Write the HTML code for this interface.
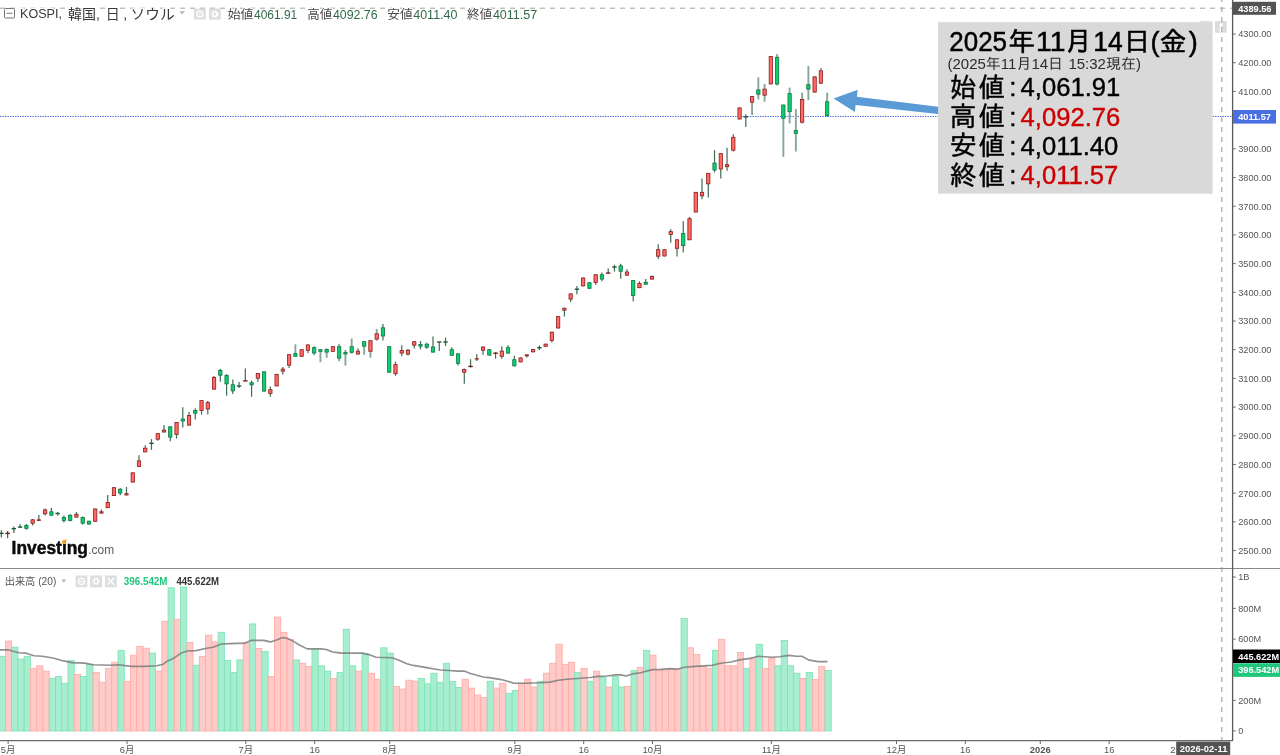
<!DOCTYPE html>
<html lang="ja"><head><meta charset="utf-8"><title>KOSPI</title>
<style>
html,body{margin:0;padding:0;background:#fff;}
body{width:1280px;height:755px;overflow:hidden;}
svg{display:block;font-family:'Liberation Sans','Noto Sans CJK JP',sans-serif;}
.ax{font-size:9.2px;fill:#555;}
.tm{font-size:9.4px;fill:#555;text-anchor:middle;}
.wk{stroke:#3d6c53;stroke-width:1.2;}
.wl{stroke:#86a698;stroke-width:1.9;}
.rb{fill:#ff6a62;stroke:#8c1c1c;stroke-width:.8;}
.gb{fill:#0ccf72;stroke:#0f7440;stroke-width:.8;}
.rd{stroke:#7a1818;stroke-width:1.4;}
.gd{stroke:#1f5a3a;stroke-width:1.4;}
.rv{fill:#ffcbc8;stroke:#ffaaa4;stroke-width:.8;}
.gv{fill:#a7edcf;stroke:#7de2b4;stroke-width:.8;}
</style></head><body>
<svg width="1280" height="755" viewBox="0 0 1280 755">
<rect width="1280" height="755" fill="#fff"/>
<g>
<rect class="gv" x="-0.85" y="656.3" width="6.26" height="74.7"/>
<rect class="rv" x="5.41" y="641.0" width="6.26" height="90.0"/>
<rect class="gv" x="11.66" y="647.2" width="6.26" height="83.8"/>
<rect class="gv" x="17.92" y="659.0" width="6.26" height="72.0"/>
<rect class="gv" x="24.17" y="656.3" width="6.26" height="74.7"/>
<rect class="rv" x="30.43" y="668.3" width="6.26" height="62.7"/>
<rect class="rv" x="36.69" y="665.8" width="6.26" height="65.2"/>
<rect class="rv" x="42.94" y="671.1" width="6.26" height="59.9"/>
<rect class="gv" x="49.20" y="678.5" width="6.26" height="52.5"/>
<rect class="gv" x="55.45" y="676.4" width="6.26" height="54.6"/>
<rect class="gv" x="61.71" y="683.2" width="6.26" height="47.8"/>
<rect class="gv" x="67.97" y="660.5" width="6.26" height="70.5"/>
<rect class="rv" x="74.22" y="674.3" width="6.26" height="56.7"/>
<rect class="gv" x="80.48" y="676.4" width="6.26" height="54.6"/>
<rect class="gv" x="86.73" y="664.3" width="6.26" height="66.7"/>
<rect class="rv" x="92.99" y="672.6" width="6.26" height="58.4"/>
<rect class="rv" x="99.25" y="682.3" width="6.26" height="48.7"/>
<rect class="rv" x="105.50" y="668.3" width="6.26" height="62.7"/>
<rect class="rv" x="111.76" y="662.2" width="6.26" height="68.8"/>
<rect class="gv" x="118.01" y="650.3" width="6.26" height="80.7"/>
<rect class="rv" x="124.27" y="681.3" width="6.26" height="49.7"/>
<rect class="rv" x="130.53" y="655.2" width="6.26" height="75.8"/>
<rect class="rv" x="136.78" y="646.3" width="6.26" height="84.7"/>
<rect class="rv" x="143.04" y="648.2" width="6.26" height="82.8"/>
<rect class="gv" x="149.29" y="653.1" width="6.26" height="77.9"/>
<rect class="rv" x="155.55" y="671.1" width="6.26" height="59.9"/>
<rect class="rv" x="161.81" y="621.3" width="6.26" height="109.7"/>
<rect class="gv" x="168.06" y="587.8" width="6.26" height="143.2"/>
<rect class="rv" x="174.32" y="619.2" width="6.26" height="111.8"/>
<rect class="gv" x="180.57" y="587.0" width="6.26" height="144.0"/>
<rect class="rv" x="186.83" y="642.5" width="6.26" height="88.5"/>
<rect class="gv" x="193.09" y="665.2" width="6.26" height="65.8"/>
<rect class="rv" x="199.34" y="656.3" width="6.26" height="74.7"/>
<rect class="rv" x="205.60" y="635.1" width="6.26" height="95.9"/>
<rect class="rv" x="211.85" y="641.9" width="6.26" height="89.1"/>
<rect class="gv" x="218.11" y="632.3" width="6.26" height="98.7"/>
<rect class="gv" x="224.37" y="660.5" width="6.26" height="70.5"/>
<rect class="gv" x="230.62" y="672.6" width="6.26" height="58.4"/>
<rect class="gv" x="236.88" y="659.9" width="6.26" height="71.1"/>
<rect class="rv" x="243.13" y="642.9" width="6.26" height="88.1"/>
<rect class="gv" x="249.39" y="623.9" width="6.26" height="107.1"/>
<rect class="rv" x="255.65" y="648.4" width="6.26" height="82.6"/>
<rect class="gv" x="261.90" y="651.4" width="6.26" height="79.6"/>
<rect class="rv" x="268.16" y="676.4" width="6.26" height="54.6"/>
<rect class="rv" x="274.41" y="617.1" width="6.26" height="113.9"/>
<rect class="rv" x="280.67" y="632.3" width="6.26" height="98.7"/>
<rect class="rv" x="286.93" y="639.3" width="6.26" height="91.7"/>
<rect class="gv" x="293.18" y="659.9" width="6.26" height="71.1"/>
<rect class="rv" x="299.44" y="663.3" width="6.26" height="67.7"/>
<rect class="rv" x="305.69" y="666.4" width="6.26" height="64.6"/>
<rect class="gv" x="311.95" y="649.3" width="6.26" height="81.7"/>
<rect class="gv" x="318.21" y="665.8" width="6.26" height="65.2"/>
<rect class="gv" x="324.46" y="671.1" width="6.26" height="59.9"/>
<rect class="rv" x="330.72" y="678.5" width="6.26" height="52.5"/>
<rect class="gv" x="336.97" y="672.6" width="6.26" height="58.4"/>
<rect class="gv" x="343.23" y="629.2" width="6.26" height="101.8"/>
<rect class="gv" x="349.49" y="665.8" width="6.26" height="65.2"/>
<rect class="rv" x="355.74" y="671.1" width="6.26" height="59.9"/>
<rect class="gv" x="362.00" y="653.5" width="6.26" height="77.5"/>
<rect class="rv" x="368.25" y="673.2" width="6.26" height="57.8"/>
<rect class="rv" x="374.51" y="679.2" width="6.26" height="51.8"/>
<rect class="gv" x="380.77" y="647.8" width="6.26" height="83.2"/>
<rect class="gv" x="387.02" y="653.1" width="6.26" height="77.9"/>
<rect class="rv" x="393.28" y="686.4" width="6.26" height="44.6"/>
<rect class="rv" x="399.53" y="689.1" width="6.26" height="41.9"/>
<rect class="rv" x="405.79" y="680.2" width="6.26" height="50.8"/>
<rect class="rv" x="412.05" y="681.1" width="6.26" height="49.9"/>
<rect class="gv" x="418.30" y="678.5" width="6.26" height="52.5"/>
<rect class="gv" x="424.56" y="683.8" width="6.26" height="47.2"/>
<rect class="gv" x="430.81" y="673.2" width="6.26" height="57.8"/>
<rect class="gv" x="437.07" y="682.3" width="6.26" height="48.7"/>
<rect class="gv" x="443.33" y="663.3" width="6.26" height="67.7"/>
<rect class="gv" x="449.58" y="681.3" width="6.26" height="49.7"/>
<rect class="gv" x="455.84" y="687.4" width="6.26" height="43.6"/>
<rect class="rv" x="462.09" y="679.2" width="6.26" height="51.8"/>
<rect class="rv" x="468.35" y="688.1" width="6.26" height="42.9"/>
<rect class="rv" x="474.61" y="695.0" width="6.26" height="36.0"/>
<rect class="rv" x="480.86" y="697.6" width="6.26" height="33.4"/>
<rect class="gv" x="487.12" y="681.3" width="6.26" height="49.7"/>
<rect class="rv" x="493.37" y="688.1" width="6.26" height="42.9"/>
<rect class="rv" x="499.63" y="683.2" width="6.26" height="47.8"/>
<rect class="gv" x="505.89" y="693.3" width="6.26" height="37.7"/>
<rect class="gv" x="512.14" y="690.6" width="6.26" height="40.4"/>
<rect class="rv" x="518.40" y="683.2" width="6.26" height="47.8"/>
<rect class="rv" x="524.65" y="679.2" width="6.26" height="51.8"/>
<rect class="rv" x="530.91" y="687.0" width="6.26" height="44.0"/>
<rect class="gv" x="537.17" y="681.3" width="6.26" height="49.7"/>
<rect class="rv" x="543.42" y="673.2" width="6.26" height="57.8"/>
<rect class="rv" x="549.68" y="663.3" width="6.26" height="67.7"/>
<rect class="rv" x="555.93" y="644.2" width="6.26" height="86.8"/>
<rect class="rv" x="562.19" y="664.3" width="6.26" height="66.7"/>
<rect class="rv" x="568.45" y="662.2" width="6.26" height="68.8"/>
<rect class="gv" x="574.70" y="672.6" width="6.26" height="58.4"/>
<rect class="rv" x="580.96" y="668.3" width="6.26" height="62.7"/>
<rect class="gv" x="587.21" y="681.3" width="6.26" height="49.7"/>
<rect class="rv" x="593.47" y="671.1" width="6.26" height="59.9"/>
<rect class="gv" x="599.73" y="677.5" width="6.26" height="53.5"/>
<rect class="rv" x="605.98" y="687.0" width="6.26" height="44.0"/>
<rect class="gv" x="612.24" y="676.4" width="6.26" height="54.6"/>
<rect class="gv" x="618.49" y="687.0" width="6.26" height="44.0"/>
<rect class="rv" x="624.75" y="686.4" width="6.26" height="44.6"/>
<rect class="gv" x="631.01" y="670.5" width="6.26" height="60.5"/>
<rect class="rv" x="637.26" y="667.3" width="6.26" height="63.7"/>
<rect class="gv" x="643.52" y="650.3" width="6.26" height="80.7"/>
<rect class="rv" x="649.77" y="655.2" width="6.26" height="75.8"/>
<rect class="rv" x="656.03" y="670.0" width="6.26" height="61.0"/>
<rect class="rv" x="662.29" y="670.0" width="6.26" height="61.0"/>
<rect class="rv" x="668.54" y="669.0" width="6.26" height="62.0"/>
<rect class="rv" x="674.80" y="669.0" width="6.26" height="62.0"/>
<rect class="gv" x="681.05" y="618.6" width="6.26" height="112.4"/>
<rect class="rv" x="687.31" y="647.8" width="6.26" height="83.2"/>
<rect class="rv" x="693.57" y="654.6" width="6.26" height="76.4"/>
<rect class="rv" x="699.82" y="666.4" width="6.26" height="64.6"/>
<rect class="rv" x="706.08" y="668.3" width="6.26" height="62.7"/>
<rect class="gv" x="712.33" y="650.3" width="6.26" height="80.7"/>
<rect class="rv" x="718.59" y="639.3" width="6.26" height="91.7"/>
<rect class="rv" x="724.85" y="665.8" width="6.26" height="65.2"/>
<rect class="rv" x="731.10" y="665.8" width="6.26" height="65.2"/>
<rect class="rv" x="737.36" y="652.5" width="6.26" height="78.5"/>
<rect class="gv" x="743.61" y="668.3" width="6.26" height="62.7"/>
<rect class="rv" x="749.87" y="659.0" width="6.26" height="72.0"/>
<rect class="gv" x="756.13" y="644.2" width="6.26" height="86.8"/>
<rect class="rv" x="762.38" y="668.3" width="6.26" height="62.7"/>
<rect class="rv" x="768.64" y="658.0" width="6.26" height="73.0"/>
<rect class="gv" x="774.89" y="665.8" width="6.26" height="65.2"/>
<rect class="gv" x="781.15" y="640.4" width="6.26" height="90.6"/>
<rect class="gv" x="787.41" y="665.8" width="6.26" height="65.2"/>
<rect class="gv" x="793.66" y="673.2" width="6.26" height="57.8"/>
<rect class="rv" x="799.92" y="678.5" width="6.26" height="52.5"/>
<rect class="gv" x="806.17" y="672.6" width="6.26" height="58.4"/>
<rect class="rv" x="812.43" y="679.6" width="6.26" height="51.4"/>
<rect class="rv" x="818.69" y="666.4" width="6.26" height="64.6"/>
<rect class="gv" x="824.94" y="670.5" width="6.26" height="60.5"/>
</g>
<polyline fill="none" stroke="#7c7c7c" stroke-opacity=".85" stroke-width="1.6" stroke-linejoin="round" points="0.0,649.9 8.5,649.9 19.0,652.7 25.4,653.1 33.9,655.8 42.4,656.3 53.0,658.0 63.6,660.9 72.0,662.6 84.7,663.1 93.2,664.7 110.2,665.2 118.6,664.7 131.4,666.4 144.0,666.4 156.8,665.8 163.1,664.3 166.4,661.6 172.7,658.8 181.2,653.1 187.5,651.0 196.0,650.6 206.6,648.2 213.0,647.2 221.4,644.0 230.0,643.6 244.7,643.1 251.1,640.4 263.8,640.4 270.2,641.9 276.5,640.0 282.9,637.6 287.1,638.3 293.5,641.4 299.8,645.3 307.2,648.9 321.0,648.9 326.4,649.5 332.7,652.0 341.2,653.1 362.4,653.1 368.7,654.6 376.1,657.3 392.0,657.8 398.4,660.1 406.9,663.7 413.2,665.4 419.6,666.4 428.0,667.9 434.4,669.0 440.8,670.0 449.2,670.5 457.7,671.1 464.1,671.1 470.4,673.6 476.8,675.3 483.1,677.0 490.6,677.9 501.2,679.6 507.5,681.3 513.9,683.2 526.6,683.2 539.3,682.8 549.9,682.1 558.4,680.2 566.9,679.2 577.5,678.5 590.2,677.5 598.6,676.4 607.1,676.0 615.6,674.9 620.9,674.9 626.2,676.0 632.5,673.9 641.0,672.8 646.4,671.1 652.7,669.6 661.2,669.4 670.7,668.6 677.1,669.2 684.5,667.3 695.1,666.4 712.0,665.4 720.5,663.3 731.1,662.0 739.6,659.9 750.2,658.4 758.6,656.3 771.4,657.3 779.8,656.7 788.3,655.4 796.8,656.3 802.1,656.3 808.4,659.9 818.0,661.6 827.5,661.6"/>
<line x1="0" y1="116.5" x2="1232" y2="116.5" stroke="#4468e0" stroke-width="1.1" stroke-dasharray="1.35 1.15"/>
<g>
<line class="wk" x1="1.35" y1="530.2" x2="1.35" y2="537.4"/><line class="gd" x1="-0.85" y1="533.4" x2="3.55" y2="533.4"/>
<line class="wk" x1="7.61" y1="531.1" x2="7.61" y2="538.3"/><line class="rd" x1="5.41" y1="533.4" x2="9.81" y2="533.4"/>
<line class="wk" x1="13.86" y1="526.4" x2="13.86" y2="533.0"/><line class="gd" x1="11.66" y1="528.7" x2="16.06" y2="528.7"/>
<line class="wk" x1="20.12" y1="524.0" x2="20.12" y2="527.8"/><line class="gd" x1="17.92" y1="527.1" x2="22.32" y2="527.1"/>
<line class="wk" x1="26.37" y1="524.0" x2="26.37" y2="529.7"/><rect class="gb" x="24.72" y="525.4" width="3.3" height="2.9"/>
<line class="wk" x1="32.63" y1="519.0" x2="32.63" y2="525.5"/><rect class="rb" x="30.98" y="519.8" width="3.3" height="3.4"/>
<line class="wk" x1="38.89" y1="515.1" x2="38.89" y2="521.0"/><rect class="rb" x="37.24" y="519.8" width="3.3" height="0.8"/>
<line class="wk" x1="45.14" y1="508.6" x2="45.14" y2="515.6"/><rect class="rb" x="43.49" y="509.9" width="3.3" height="3.9"/>
<line class="wk" x1="51.40" y1="508.1" x2="51.40" y2="515.6"/><rect class="gb" x="49.75" y="511.8" width="3.3" height="3.4"/>
<line class="wk" x1="57.65" y1="511.9" x2="57.65" y2="515.6"/><line class="gd" x1="55.45" y1="513.5" x2="59.85" y2="513.5"/>
<line class="wk" x1="63.91" y1="515.6" x2="63.91" y2="522.6"/><rect class="gb" x="62.26" y="517.6" width="3.3" height="3.0"/>
<line class="wk" x1="70.17" y1="514.2" x2="70.17" y2="521.3"/><rect class="gb" x="68.52" y="515.3" width="3.3" height="5.3"/>
<line class="wk" x1="76.42" y1="512.1" x2="76.42" y2="517.7"/><rect class="rb" x="74.77" y="514.3" width="3.3" height="2.8"/>
<line class="wk" x1="82.68" y1="516.6" x2="82.68" y2="524.5"/><rect class="gb" x="81.03" y="517.6" width="3.3" height="5.6"/>
<line class="wk" x1="88.93" y1="520.8" x2="88.93" y2="524.5"/><rect class="gb" x="87.28" y="521.2" width="3.3" height="2.9"/>
<line class="wk" x1="95.19" y1="508.6" x2="95.19" y2="521.7"/><rect class="rb" x="93.54" y="509.0" width="3.3" height="12.3"/>
<line class="wk" x1="101.45" y1="509.5" x2="101.45" y2="513.5"/><rect class="rb" x="99.80" y="511.8" width="3.3" height="1.3"/>
<line class="wk" x1="107.70" y1="495.0" x2="107.70" y2="508.1"/><rect class="rb" x="106.05" y="502.4" width="3.3" height="5.3"/>
<line class="wk" x1="113.96" y1="487.3" x2="113.96" y2="496.0"/><rect class="rb" x="112.31" y="487.7" width="3.3" height="7.9"/>
<line class="wk" x1="120.21" y1="488.1" x2="120.21" y2="495.2"/><rect class="gb" x="118.56" y="489.3" width="3.3" height="3.7"/>
<line class="wk" x1="126.47" y1="487.0" x2="126.47" y2="495.4"/><rect class="rb" x="124.82" y="493.7" width="3.3" height="1.3"/>
<line class="wk" x1="132.73" y1="472.4" x2="132.73" y2="482.5"/><rect class="rb" x="131.08" y="472.8" width="3.3" height="9.3"/>
<line class="wk" x1="138.98" y1="455.3" x2="138.98" y2="466.8"/><rect class="rb" x="137.33" y="460.9" width="3.3" height="5.5"/>
<line class="wk" x1="145.24" y1="445.2" x2="145.24" y2="452.3"/><rect class="rb" x="143.59" y="448.2" width="3.3" height="3.7"/>
<line class="wk" x1="151.49" y1="439.1" x2="151.49" y2="449.9"/><line class="gd" x1="149.29" y1="443.3" x2="153.69" y2="443.3"/>
<line class="wk" x1="157.75" y1="433.2" x2="157.75" y2="440.7"/><rect class="rb" x="156.10" y="433.6" width="3.3" height="5.6"/>
<line class="wk" x1="164.01" y1="425.1" x2="164.01" y2="432.4"/><rect class="rb" x="162.36" y="430.1" width="3.3" height="1.9"/>
<line class="wk" x1="170.26" y1="426.4" x2="170.26" y2="441.2"/><rect class="gb" x="168.61" y="426.8" width="3.3" height="10.3"/>
<line class="wk" x1="176.52" y1="422.1" x2="176.52" y2="438.5"/><rect class="rb" x="174.87" y="422.5" width="3.3" height="11.9"/>
<line class="wk" x1="182.77" y1="407.2" x2="182.77" y2="427.5"/><rect class="gb" x="181.12" y="419.0" width="3.3" height="2.0"/>
<line class="wk" x1="189.03" y1="412.1" x2="189.03" y2="425.5"/><rect class="rb" x="187.38" y="415.5" width="3.3" height="9.6"/>
<line class="wk" x1="195.29" y1="408.2" x2="195.29" y2="419.6"/><rect class="gb" x="193.64" y="410.5" width="3.3" height="2.7"/>
<line class="wk" x1="201.54" y1="400.2" x2="201.54" y2="414.6"/><rect class="rb" x="199.89" y="400.6" width="3.3" height="9.8"/>
<line class="wk" x1="207.80" y1="400.9" x2="207.80" y2="414.6"/><rect class="rb" x="206.15" y="402.6" width="3.3" height="6.4"/>
<line class="wk" x1="214.05" y1="376.1" x2="214.05" y2="389.5"/><rect class="rb" x="212.40" y="377.5" width="3.3" height="11.6"/>
<line class="wk" x1="220.31" y1="369.1" x2="220.31" y2="381.8"/><rect class="gb" x="218.66" y="370.3" width="3.3" height="4.9"/>
<line class="wk" x1="226.57" y1="374.1" x2="226.57" y2="395.7"/><rect class="gb" x="224.92" y="375.5" width="3.3" height="8.4"/>
<line class="wk" x1="232.82" y1="379.6" x2="232.82" y2="394.0"/><rect class="gb" x="231.17" y="384.7" width="3.3" height="6.2"/>
<line class="wk" x1="239.08" y1="382.0" x2="239.08" y2="388.0"/><line class="gd" x1="236.88" y1="386.0" x2="241.28" y2="386.0"/>
<line class="wk" x1="245.33" y1="368.4" x2="245.33" y2="380.9"/><line class="rd" x1="243.13" y1="380.9" x2="247.53" y2="380.9"/>
<line class="wk" x1="251.59" y1="380.6" x2="251.59" y2="396.7"/><rect class="gb" x="249.94" y="382.7" width="3.3" height="2.2"/>
<line class="wk" x1="257.85" y1="373.1" x2="257.85" y2="381.8"/><rect class="rb" x="256.20" y="373.5" width="3.3" height="4.7"/>
<line class="wk" x1="264.10" y1="371.4" x2="264.10" y2="391.5"/><rect class="gb" x="262.45" y="371.8" width="3.3" height="19.3"/>
<line class="wk" x1="270.36" y1="386.5" x2="270.36" y2="396.7"/><rect class="rb" x="268.71" y="389.7" width="3.3" height="3.7"/>
<line class="wk" x1="276.61" y1="373.9" x2="276.61" y2="386.3"/><rect class="rb" x="274.96" y="374.3" width="3.3" height="11.6"/>
<line class="wk" x1="282.87" y1="367.0" x2="282.87" y2="374.4"/><rect class="rb" x="281.22" y="369.1" width="3.3" height="2.1"/>
<line class="wl" x1="289.13" y1="354.2" x2="289.13" y2="368.1"/><rect class="rb" x="287.48" y="354.6" width="3.3" height="10.6"/>
<line class="wl" x1="295.38" y1="344.3" x2="295.38" y2="356.7"/><rect class="gb" x="293.73" y="353.6" width="3.3" height="2.7"/>
<line class="wl" x1="301.64" y1="349.3" x2="301.64" y2="356.7"/><rect class="rb" x="299.99" y="349.7" width="3.3" height="6.6"/>
<line class="wl" x1="307.89" y1="344.5" x2="307.89" y2="353.2"/><rect class="rb" x="306.24" y="344.9" width="3.3" height="5.4"/>
<line class="wl" x1="314.15" y1="346.3" x2="314.15" y2="355.2"/><rect class="gb" x="312.50" y="347.7" width="3.3" height="5.3"/>
<line class="wl" x1="320.41" y1="349.3" x2="320.41" y2="362.2"/><rect class="gb" x="318.76" y="349.7" width="3.3" height="1.6"/>
<line class="wl" x1="326.66" y1="348.5" x2="326.66" y2="357.7"/><rect class="gb" x="325.01" y="349.4" width="3.3" height="2.7"/>
<line class="wl" x1="332.92" y1="346.3" x2="332.92" y2="351.7"/><rect class="rb" x="331.27" y="346.7" width="3.3" height="4.6"/>
<line class="wl" x1="339.17" y1="343.8" x2="339.17" y2="361.2"/><rect class="gb" x="337.52" y="346.7" width="3.3" height="11.4"/>
<line class="wl" x1="345.43" y1="349.8" x2="345.43" y2="365.6"/><rect class="gb" x="343.78" y="352.6" width="3.3" height="1.4"/>
<line class="wl" x1="351.69" y1="338.5" x2="351.69" y2="353.5"/><rect class="gb" x="350.04" y="346.7" width="3.3" height="5.6"/>
<line class="wl" x1="357.94" y1="348.3" x2="357.94" y2="354.5"/><rect class="rb" x="356.29" y="351.1" width="3.3" height="3.0"/>
<line class="wl" x1="364.20" y1="341.3" x2="364.20" y2="354.7"/><rect class="gb" x="362.55" y="341.7" width="3.3" height="4.5"/>
<line class="wl" x1="370.45" y1="340.3" x2="370.45" y2="357.7"/><rect class="rb" x="368.80" y="340.7" width="3.3" height="10.6"/>
<line class="wl" x1="376.71" y1="329.1" x2="376.71" y2="340.6"/><rect class="rb" x="375.06" y="333.8" width="3.3" height="5.3"/>
<line class="wk" x1="382.97" y1="324.1" x2="382.97" y2="340.6"/><rect class="gb" x="381.32" y="327.8" width="3.3" height="8.2"/>
<line class="wk" x1="389.22" y1="346.3" x2="389.22" y2="372.6"/><rect class="gb" x="387.57" y="346.7" width="3.3" height="25.5"/>
<line class="wk" x1="395.48" y1="361.7" x2="395.48" y2="375.8"/><rect class="rb" x="393.83" y="364.6" width="3.3" height="9.1"/>
<line class="wk" x1="401.73" y1="345.3" x2="401.73" y2="356.2"/><rect class="rb" x="400.08" y="350.4" width="3.3" height="2.7"/>
<line class="wk" x1="407.99" y1="349.0" x2="407.99" y2="355.5"/><rect class="rb" x="406.34" y="350.2" width="3.3" height="3.9"/>
<line class="wk" x1="414.25" y1="341.3" x2="414.25" y2="348.6"/><rect class="rb" x="412.60" y="341.7" width="3.3" height="3.5"/>
<line class="wk" x1="420.50" y1="341.0" x2="420.50" y2="349.5"/><rect class="gb" x="418.85" y="344.4" width="3.3" height="1.8"/>
<line class="wk" x1="426.76" y1="342.8" x2="426.76" y2="348.8"/><rect class="gb" x="425.11" y="344.2" width="3.3" height="3.0"/>
<line class="wk" x1="433.01" y1="336.6" x2="433.01" y2="352.5"/><rect class="gb" x="431.36" y="347.0" width="3.3" height="5.1"/>
<line class="wk" x1="439.27" y1="342.0" x2="439.27" y2="351.0"/><line class="gd" x1="437.07" y1="342.0" x2="441.47" y2="342.0"/>
<line class="wk" x1="445.53" y1="337.6" x2="445.53" y2="346.0"/><line class="gd" x1="443.33" y1="342.0" x2="447.73" y2="342.0"/>
<line class="wk" x1="451.78" y1="347.3" x2="451.78" y2="355.7"/><rect class="gb" x="450.13" y="349.7" width="3.3" height="5.6"/>
<line class="wk" x1="458.04" y1="353.4" x2="458.04" y2="365.6"/><rect class="gb" x="456.39" y="353.8" width="3.3" height="9.5"/>
<line class="wk" x1="464.29" y1="368.5" x2="464.29" y2="383.7"/><rect class="rb" x="462.64" y="369.5" width="3.3" height="2.7"/>
<line class="wk" x1="470.55" y1="359.2" x2="470.55" y2="367.6"/><line class="rd" x1="468.35" y1="366.4" x2="472.75" y2="366.4"/>
<line class="wk" x1="476.81" y1="353.9" x2="476.81" y2="360.9"/><rect class="rb" x="475.16" y="358.7" width="3.3" height="0.4"/>
<line class="wk" x1="483.06" y1="346.6" x2="483.06" y2="354.7"/><rect class="rb" x="481.41" y="347.0" width="3.3" height="3.3"/>
<line class="wk" x1="489.32" y1="349.3" x2="489.32" y2="355.5"/><rect class="gb" x="487.67" y="349.7" width="3.3" height="5.4"/>
<line class="wk" x1="495.57" y1="352.2" x2="495.57" y2="358.7"/><line class="rd" x1="493.37" y1="353.2" x2="497.77" y2="353.2"/>
<line class="wk" x1="501.83" y1="346.3" x2="501.83" y2="358.7"/><rect class="rb" x="500.18" y="351.1" width="3.3" height="5.2"/>
<line class="wk" x1="508.09" y1="345.3" x2="508.09" y2="353.5"/><rect class="gb" x="506.44" y="347.7" width="3.3" height="5.4"/>
<line class="wk" x1="514.34" y1="355.8" x2="514.34" y2="366.3"/><rect class="gb" x="512.69" y="359.7" width="3.3" height="6.2"/>
<line class="wk" x1="520.60" y1="357.5" x2="520.60" y2="362.3"/><rect class="rb" x="518.95" y="357.9" width="3.3" height="4.0"/>
<line class="wk" x1="526.85" y1="354.4" x2="526.85" y2="357.5"/><rect class="rb" x="525.20" y="354.8" width="3.3" height="1.1"/>
<line class="wk" x1="533.11" y1="349.1" x2="533.11" y2="352.3"/><rect class="rb" x="531.46" y="349.5" width="3.3" height="2.4"/>
<line class="wk" x1="539.37" y1="345.6" x2="539.37" y2="349.9"/><line class="gd" x1="537.17" y1="347.7" x2="541.57" y2="347.7"/>
<line class="wk" x1="545.62" y1="343.7" x2="545.62" y2="346.7"/><rect class="rb" x="543.97" y="344.1" width="3.3" height="2.2"/>
<line class="wk" x1="551.88" y1="331.8" x2="551.88" y2="342.4"/><rect class="rb" x="550.23" y="332.2" width="3.3" height="8.3"/>
<line class="wk" x1="558.13" y1="316.2" x2="558.13" y2="328.4"/><rect class="rb" x="556.48" y="316.6" width="3.3" height="11.4"/>
<line class="wk" x1="564.39" y1="307.8" x2="564.39" y2="316.5"/><rect class="rb" x="562.74" y="308.2" width="3.3" height="2.0"/>
<line class="wk" x1="570.65" y1="293.5" x2="570.65" y2="301.9"/><rect class="rb" x="569.00" y="293.9" width="3.3" height="5.2"/>
<line class="wk" x1="576.90" y1="286.0" x2="576.90" y2="294.3"/><line class="gd" x1="574.70" y1="289.2" x2="579.10" y2="289.2"/>
<line class="wk" x1="583.16" y1="277.6" x2="583.16" y2="286.3"/><rect class="rb" x="581.51" y="278.0" width="3.3" height="7.9"/>
<line class="wk" x1="589.41" y1="282.3" x2="589.41" y2="288.7"/><rect class="gb" x="587.76" y="282.7" width="3.3" height="5.6"/>
<line class="wk" x1="595.67" y1="274.3" x2="595.67" y2="284.7"/><rect class="rb" x="594.02" y="274.7" width="3.3" height="7.7"/>
<line class="wk" x1="601.93" y1="272.4" x2="601.93" y2="281.3"/><rect class="gb" x="600.28" y="274.7" width="3.3" height="4.4"/>
<line class="wk" x1="608.18" y1="268.4" x2="608.18" y2="273.6"/><line class="rd" x1="605.98" y1="273.1" x2="610.38" y2="273.1"/>
<line class="wk" x1="614.44" y1="264.7" x2="614.44" y2="271.6"/><line class="gd" x1="612.24" y1="267.0" x2="616.64" y2="267.0"/>
<line class="wk" x1="620.69" y1="263.8" x2="620.69" y2="278.7"/><rect class="gb" x="619.04" y="265.9" width="3.3" height="5.3"/>
<line class="wk" x1="626.95" y1="269.2" x2="626.95" y2="275.6"/><rect class="rb" x="625.30" y="272.0" width="3.3" height="3.2"/>
<line class="wk" x1="633.21" y1="280.2" x2="633.21" y2="301.4"/><rect class="gb" x="631.56" y="280.6" width="3.3" height="14.8"/>
<line class="wk" x1="639.46" y1="281.3" x2="639.46" y2="288.1"/><rect class="rb" x="637.81" y="283.5" width="3.3" height="4.2"/>
<line class="wk" x1="645.72" y1="279.1" x2="645.72" y2="284.6"/><rect class="gb" x="644.07" y="282.3" width="3.3" height="1.9"/>
<line class="wk" x1="651.97" y1="275.5" x2="651.97" y2="279.5"/><rect class="rb" x="650.32" y="276.4" width="3.3" height="2.7"/>
<line class="wk" x1="658.23" y1="244.2" x2="658.23" y2="259.0"/><rect class="rb" x="656.58" y="249.7" width="3.3" height="6.5"/>
<line class="wk" x1="664.49" y1="249.3" x2="664.49" y2="256.4"/><rect class="rb" x="662.84" y="249.7" width="3.3" height="6.3"/>
<line class="wk" x1="670.74" y1="229.2" x2="670.74" y2="242.7"/><rect class="rb" x="669.09" y="231.6" width="3.3" height="2.8"/>
<line class="wk" x1="677.00" y1="239.4" x2="677.00" y2="256.6"/><rect class="rb" x="675.35" y="239.8" width="3.3" height="8.5"/>
<line class="wk" x1="683.25" y1="221.3" x2="683.25" y2="252.4"/><rect class="gb" x="681.60" y="233.6" width="3.3" height="12.0"/>
<line class="wk" x1="689.51" y1="217.0" x2="689.51" y2="240.2"/><rect class="rb" x="687.86" y="218.7" width="3.3" height="21.1"/>
<line class="wk" x1="695.77" y1="191.9" x2="695.77" y2="212.4"/><rect class="rb" x="694.12" y="192.3" width="3.3" height="19.7"/>
<line class="wk" x1="702.02" y1="178.6" x2="702.02" y2="199.2"/><rect class="rb" x="700.37" y="192.3" width="3.3" height="3.6"/>
<line class="wk" x1="708.28" y1="172.9" x2="708.28" y2="197.6"/><rect class="rb" x="706.63" y="173.3" width="3.3" height="10.6"/>
<line class="wk" x1="714.53" y1="150.2" x2="714.53" y2="172.4"/><rect class="gb" x="712.88" y="163.1" width="3.3" height="6.9"/>
<line class="wk" x1="720.79" y1="153.2" x2="720.79" y2="178.6"/><rect class="rb" x="719.14" y="153.6" width="3.3" height="15.4"/>
<line class="wk" x1="727.05" y1="147.8" x2="727.05" y2="170.7"/><rect class="rb" x="725.40" y="164.7" width="3.3" height="2.0"/>
<line class="wk" x1="733.30" y1="134.3" x2="733.30" y2="151.5"/><rect class="rb" x="731.65" y="137.3" width="3.3" height="12.9"/>
<line class="wk" x1="739.56" y1="107.5" x2="739.56" y2="119.4"/><rect class="rb" x="737.91" y="107.9" width="3.3" height="11.1"/>
<line class="wk" x1="745.81" y1="114.2" x2="745.81" y2="126.9"/><line class="gd" x1="743.61" y1="116.9" x2="748.01" y2="116.9"/>
<line class="wl" x1="752.07" y1="96.2" x2="752.07" y2="115.0"/><rect class="rb" x="750.42" y="96.6" width="3.3" height="5.6"/>
<line class="wl" x1="758.33" y1="77.3" x2="758.33" y2="99.5"/><rect class="gb" x="756.68" y="89.9" width="3.3" height="4.3"/>
<line class="wl" x1="764.58" y1="84.0" x2="764.58" y2="101.8"/><rect class="rb" x="762.93" y="89.1" width="3.3" height="6.1"/>
<line class="wl" x1="770.84" y1="56.1" x2="770.84" y2="84.3"/><rect class="rb" x="769.19" y="56.5" width="3.3" height="27.4"/>
<line class="wl" x1="777.09" y1="54.1" x2="777.09" y2="85.5"/><rect class="gb" x="775.44" y="57.3" width="3.3" height="26.7"/>
<line class="wl" x1="783.35" y1="104.6" x2="783.35" y2="156.8"/><rect class="gb" x="781.70" y="105.0" width="3.3" height="13.2"/>
<line class="wl" x1="789.61" y1="87.6" x2="789.61" y2="123.4"/><rect class="gb" x="787.96" y="93.6" width="3.3" height="18.1"/>
<line class="wl" x1="795.86" y1="109.1" x2="795.86" y2="151.5"/><rect class="gb" x="794.21" y="130.5" width="3.3" height="2.8"/>
<line class="wl" x1="802.12" y1="92.7" x2="802.12" y2="123.5"/><rect class="rb" x="800.47" y="99.5" width="3.3" height="22.7"/>
<line class="wl" x1="808.37" y1="66.0" x2="808.37" y2="100.2"/><rect class="gb" x="806.72" y="84.7" width="3.3" height="4.4"/>
<line class="wl" x1="814.63" y1="76.0" x2="814.63" y2="93.0"/><rect class="rb" x="812.98" y="76.9" width="3.3" height="15.1"/>
<line class="wl" x1="820.89" y1="68.0" x2="820.89" y2="83.6"/><rect class="rb" x="819.24" y="70.8" width="3.3" height="12.4"/>
<line class="wl" x1="827.14" y1="92.7" x2="827.14" y2="116.2"/><rect class="gb" x="825.49" y="101.8" width="3.3" height="14.0"/>
</g>
<rect x="1215" y="21.1" width="11.8" height="11.6" fill="#dcdcdc"/><path d="M1220.9 22.8l2.4 2.8h-1.6v4h1.6l-2.4 2.8l-2.4-2.8h1.6v-4h-1.6z" fill="#fff"/>
<line x1="0" y1="8.2" x2="1232" y2="8.2" stroke="#a3a3a3" stroke-width="1" stroke-dasharray="5 5"/>
<line x1="1221.8" y1="0" x2="1221.8" y2="741" stroke="#a6a6a6" stroke-width="1.2" stroke-dasharray="5 5" stroke-dashoffset="3"/>
<line x1="0" y1="568.5" x2="1280" y2="568.5" stroke="#8a8a8a" stroke-width="1.2"/>
<line x1="0" y1="740.6" x2="1233" y2="740.6" stroke="#6a6a6a" stroke-width="1.2"/>
<line x1="1232.6" y1="0" x2="1232.6" y2="741" stroke="#5a5a5a" stroke-width="1.3"/>
<line x1="1233" y1="34.0" x2="1235.8" y2="34.0" stroke="#707070" stroke-width="1"/><text class="ax" x="1238.2" y="37.3">4300.00</text>
<line x1="1233" y1="62.7" x2="1235.8" y2="62.7" stroke="#707070" stroke-width="1"/><text class="ax" x="1238.2" y="66.0">4200.00</text>
<line x1="1233" y1="91.4" x2="1235.8" y2="91.4" stroke="#707070" stroke-width="1"/><text class="ax" x="1238.2" y="94.7">4100.00</text>
<line x1="1233" y1="120.1" x2="1235.8" y2="120.1" stroke="#707070" stroke-width="1"/>
<line x1="1233" y1="148.8" x2="1235.8" y2="148.8" stroke="#707070" stroke-width="1"/><text class="ax" x="1238.2" y="152.1">3900.00</text>
<line x1="1233" y1="177.5" x2="1235.8" y2="177.5" stroke="#707070" stroke-width="1"/><text class="ax" x="1238.2" y="180.8">3800.00</text>
<line x1="1233" y1="206.2" x2="1235.8" y2="206.2" stroke="#707070" stroke-width="1"/><text class="ax" x="1238.2" y="209.5">3700.00</text>
<line x1="1233" y1="234.9" x2="1235.8" y2="234.9" stroke="#707070" stroke-width="1"/><text class="ax" x="1238.2" y="238.2">3600.00</text>
<line x1="1233" y1="263.6" x2="1235.8" y2="263.6" stroke="#707070" stroke-width="1"/><text class="ax" x="1238.2" y="266.9">3500.00</text>
<line x1="1233" y1="292.3" x2="1235.8" y2="292.3" stroke="#707070" stroke-width="1"/><text class="ax" x="1238.2" y="295.6">3400.00</text>
<line x1="1233" y1="321.0" x2="1235.8" y2="321.0" stroke="#707070" stroke-width="1"/><text class="ax" x="1238.2" y="324.3">3300.00</text>
<line x1="1233" y1="349.7" x2="1235.8" y2="349.7" stroke="#707070" stroke-width="1"/><text class="ax" x="1238.2" y="353.0">3200.00</text>
<line x1="1233" y1="378.4" x2="1235.8" y2="378.4" stroke="#707070" stroke-width="1"/><text class="ax" x="1238.2" y="381.7">3100.00</text>
<line x1="1233" y1="407.1" x2="1235.8" y2="407.1" stroke="#707070" stroke-width="1"/><text class="ax" x="1238.2" y="410.4">3000.00</text>
<line x1="1233" y1="435.8" x2="1235.8" y2="435.8" stroke="#707070" stroke-width="1"/><text class="ax" x="1238.2" y="439.1">2900.00</text>
<line x1="1233" y1="464.5" x2="1235.8" y2="464.5" stroke="#707070" stroke-width="1"/><text class="ax" x="1238.2" y="467.8">2800.00</text>
<line x1="1233" y1="493.2" x2="1235.8" y2="493.2" stroke="#707070" stroke-width="1"/><text class="ax" x="1238.2" y="496.5">2700.00</text>
<line x1="1233" y1="521.9" x2="1235.8" y2="521.9" stroke="#707070" stroke-width="1"/><text class="ax" x="1238.2" y="525.2">2600.00</text>
<line x1="1233" y1="550.6" x2="1235.8" y2="550.6" stroke="#707070" stroke-width="1"/><text class="ax" x="1238.2" y="553.9">2500.00</text>
<line x1="1233" y1="577.0" x2="1235.8" y2="577.0" stroke="#707070" stroke-width="1"/><text class="ax" x="1238.2" y="580.3">1B</text>
<line x1="1233" y1="608.4" x2="1235.8" y2="608.4" stroke="#707070" stroke-width="1"/><text class="ax" x="1238.2" y="611.7">800M</text>
<line x1="1233" y1="639.1" x2="1235.8" y2="639.1" stroke="#707070" stroke-width="1"/><text class="ax" x="1238.2" y="642.4">600M</text>
<line x1="1233" y1="669.6" x2="1235.8" y2="669.6" stroke="#707070" stroke-width="1"/>
<line x1="1233" y1="700.4" x2="1235.8" y2="700.4" stroke="#707070" stroke-width="1"/><text class="ax" x="1238.2" y="703.7">200M</text>
<line x1="1233" y1="730.9" x2="1235.8" y2="730.9" stroke="#707070" stroke-width="1"/><text class="ax" x="1238.2" y="734.2">0</text>
<rect x="1233" y="1.8" width="43" height="13" fill="#535353"/><text x="1238.2" y="11.7" font-size="9.2" font-weight="bold" fill="#fff">4389.56</text>
<rect x="1233" y="110" width="43" height="13.6" fill="#4a6fe3"/><text x="1238.2" y="120.1" font-size="9.2" font-weight="bold" fill="#fff">4011.57</text>
<rect x="1233" y="649.5" width="47" height="13.6" fill="#000"/><text x="1238.2" y="659.6" font-size="9.2" font-weight="bold" fill="#fff">445.622M</text>
<rect x="1233" y="663.3" width="47" height="13.6" fill="#1fc77d"/><text x="1238.2" y="673.4" font-size="9.2" font-weight="bold" fill="#fff">396.542M</text>
<line x1="8.1" y1="741" x2="8.1" y2="744" stroke="#6a6a6a" stroke-width="1"/><text class="tm" x="8.1" y="753.2">5月</text>
<line x1="127.0" y1="741" x2="127.0" y2="744" stroke="#6a6a6a" stroke-width="1"/><text class="tm" x="127.0" y="753.2">6月</text>
<line x1="245.8" y1="741" x2="245.8" y2="744" stroke="#6a6a6a" stroke-width="1"/><text class="tm" x="245.8" y="753.2">7月</text>
<line x1="314.7" y1="741" x2="314.7" y2="744" stroke="#6a6a6a" stroke-width="1"/><text class="tm" x="314.7" y="753.2">16</text>
<line x1="389.7" y1="741" x2="389.7" y2="744" stroke="#6a6a6a" stroke-width="1"/><text class="tm" x="389.7" y="753.2">8月</text>
<line x1="514.8" y1="741" x2="514.8" y2="744" stroke="#6a6a6a" stroke-width="1"/><text class="tm" x="514.8" y="753.2">9月</text>
<line x1="583.7" y1="741" x2="583.7" y2="744" stroke="#6a6a6a" stroke-width="1"/><text class="tm" x="583.7" y="753.2">16</text>
<line x1="652.5" y1="741" x2="652.5" y2="744" stroke="#6a6a6a" stroke-width="1"/><text class="tm" x="652.5" y="753.2">10月</text>
<line x1="771.3" y1="741" x2="771.3" y2="744" stroke="#6a6a6a" stroke-width="1"/><text class="tm" x="771.3" y="753.2">11月</text>
<line x1="896.5" y1="741" x2="896.5" y2="744" stroke="#6a6a6a" stroke-width="1"/><text class="tm" x="896.5" y="753.2">12月</text>
<line x1="965.3" y1="741" x2="965.3" y2="744" stroke="#6a6a6a" stroke-width="1"/><text class="tm" x="965.3" y="753.2">16</text>
<line x1="1040.3" y1="741" x2="1040.3" y2="744" stroke="#6a6a6a" stroke-width="1"/><text class="tm" x="1040.3" y="753.2" font-weight="bold">2026</text>
<line x1="1109.2" y1="741" x2="1109.2" y2="744" stroke="#6a6a6a" stroke-width="1"/><text class="tm" x="1109.2" y="753.2">16</text>
<text class="tm" x="1172.8" y="753.2">2</text>
<rect x="1176.2" y="741.6" width="54" height="13.4" fill="#535353"/><text x="1179.8" y="752" font-size="9.2" font-weight="bold" fill="#fff" textLength="47.6" lengthAdjust="spacingAndGlyphs">2026-02-11</text>
<g fill="none" stroke="#777" stroke-width="1"><rect x="4.5" y="8.5" width="10" height="9.5" rx="1"/><line x1="6.5" y1="13.3" x2="12.5" y2="13.3"/></g>
<text y="18.3" font-size="13" fill="#3a3a3a" stroke="#fff" stroke-width="2.5" paint-order="stroke"><tspan x="20.1" textLength="41.9" lengthAdjust="spacingAndGlyphs">KOSPI,</tspan></text><text y="18.5" font-size="14" fill="#3a3a3a" stroke="#fff" stroke-width="2.5" paint-order="stroke"><tspan x="68">韓国,</tspan><tspan x="105.7" textLength="21.4" lengthAdjust="spacing">日,</tspan><tspan x="130.6" textLength="44.1" lengthAdjust="spacingAndGlyphs">ソウル</tspan></text>
<path d="M179.5 11.3h5.4l-2.7 3.2z" fill="#b5b5b5"/>
<rect x="194" y="8.6" width="11.8" height="11" fill="#dedede"/><circle cx="199.9" cy="14.1" r="3" fill="none" stroke="#fff" stroke-width="1.3"/><circle cx="199.9" cy="14.1" r="1" fill="#fff"/>
<rect x="209" y="8.6" width="11.8" height="11" fill="#dedede"/><circle cx="214.9" cy="14.1" r="2.6" fill="none" stroke="#fff" stroke-width="2" stroke-dasharray="1.4 1"/><circle cx="214.9" cy="14.1" r="2.2" fill="none" stroke="#fff" stroke-width="1.2"/>
<text y="18.6" font-size="12.4" fill="#4a4a4a" stroke="#fff" stroke-width="2" paint-order="stroke"><tspan x="227.7" textLength="25.7" lengthAdjust="spacingAndGlyphs">始値</tspan></text><text y="18.6" font-size="12" fill="#2f6b49" stroke="#fff" stroke-width="2" paint-order="stroke"><tspan x="254.0" textLength="43.2" lengthAdjust="spacingAndGlyphs">4061.91</tspan></text>
<text y="18.6" font-size="12.4" fill="#4a4a4a" stroke="#fff" stroke-width="2" paint-order="stroke"><tspan x="307.3" textLength="25.1" lengthAdjust="spacingAndGlyphs">高値</tspan></text><text y="18.6" font-size="12" fill="#2f6b49" stroke="#fff" stroke-width="2" paint-order="stroke"><tspan x="333.0" textLength="44.6" lengthAdjust="spacingAndGlyphs">4092.76</tspan></text>
<text y="18.6" font-size="12.4" fill="#4a4a4a" stroke="#fff" stroke-width="2" paint-order="stroke"><tspan x="387.2" textLength="25.4" lengthAdjust="spacingAndGlyphs">安値</tspan></text><text y="18.6" font-size="12" fill="#2f6b49" stroke="#fff" stroke-width="2" paint-order="stroke"><tspan x="413.2" textLength="44.3" lengthAdjust="spacingAndGlyphs">4011.40</tspan></text>
<text y="18.6" font-size="12.4" fill="#4a4a4a" stroke="#fff" stroke-width="2" paint-order="stroke"><tspan x="466.9" textLength="25.4" lengthAdjust="spacingAndGlyphs">終値</tspan></text><text y="18.6" font-size="12" fill="#2f6b49" stroke="#fff" stroke-width="2" paint-order="stroke"><tspan x="492.9" textLength="44.3" lengthAdjust="spacingAndGlyphs">4011.57</tspan></text>
<text x="4.7" y="585" font-size="10" fill="#555" textLength="51.6" lengthAdjust="spacingAndGlyphs">出来高 (20)</text>
<path d="M61.3 579.6h5l-2.5 3z" fill="#b5b5b5"/>
<rect x="75.6" y="575.5" width="11.8" height="11.8" fill="#dedede"/><rect x="90.2" y="575.5" width="11.8" height="11.8" fill="#dedede"/><rect x="105.0" y="575.5" width="11.8" height="11.8" fill="#dedede"/>
<circle cx="81.5" cy="581.4" r="3" fill="none" stroke="#fff" stroke-width="1.3"/><circle cx="81.5" cy="581.4" r="1" fill="#fff"/><circle cx="96.1" cy="581.4" r="2.6" fill="none" stroke="#fff" stroke-width="2" stroke-dasharray="1.4 1"/><circle cx="96.1" cy="581.4" r="2.2" fill="none" stroke="#fff" stroke-width="1.2"/><path d="M107.6 578.1l6.6 6.6M114.2 578.1l-6.6 6.6" stroke="#fff" stroke-width="1.4" fill="none"/>
<text x="123.8" y="585.2" font-size="10" font-weight="bold" fill="#1fc77d" textLength="43.7" lengthAdjust="spacingAndGlyphs">396.542M</text>
<text x="176.4" y="585.2" font-size="10" font-weight="bold" fill="#333" textLength="42.7" lengthAdjust="spacingAndGlyphs">445.622M</text>
<text x="11.6" y="553.9" font-size="17.6" font-weight="bold" fill="#0a0a0a" stroke="#0a0a0a" stroke-width=".45" textLength="76.4" lengthAdjust="spacingAndGlyphs">Investing</text><text x="88.3" y="553.9" font-size="12.2" fill="#5a5a5a" textLength="25.8" lengthAdjust="spacingAndGlyphs">.com</text><path d="M61.7 543.4L62.6 540.6L66.8 539.2L65.4 543.4Z" fill="#f9a11b"/>
<g fill="#5b9bd5"><path d="M833.6 98.4L857.7 89.7L856.9 96.8L940 106.9L940 114.3L855.6 105L854.9 112.1Z"/></g>
<g font-family="'Liberation Sans','IPAGothic','Noto Sans CJK JP',sans-serif">
<rect x="1200" y="20.9" width="11.8" height="3" fill="#dedede"/><rect x="938.1" y="22.2" width="274.5" height="171.5" fill="#d9d9d9"/>
<text x="949.3" y="50.6" font-size="27.4" fill="#000" stroke="#000" stroke-width=".5" textLength="57.7" lengthAdjust="spacingAndGlyphs">2025</text><text x="1008.0" y="50.6" font-size="27" fill="#000" stroke="#000" stroke-width=".5">年</text><text x="1036.0" y="50.6" font-size="27.4" fill="#000" stroke="#000" stroke-width=".5" textLength="29.4" lengthAdjust="spacingAndGlyphs">11</text><text x="1065.1" y="50.6" font-size="27" fill="#000" stroke="#000" stroke-width=".5">月</text><text x="1093.3" y="50.6" font-size="27.4" fill="#000" stroke="#000" stroke-width=".5" textLength="29.4" lengthAdjust="spacingAndGlyphs">14</text><text x="1123.4" y="50.6" font-size="27" fill="#000" stroke="#000" stroke-width=".5">日</text><text x="1150.6" y="50.6" font-size="27" fill="#000" stroke="#000" stroke-width=".5">(</text><text x="1159.6" y="50.6" font-size="27" fill="#000" stroke="#000" stroke-width=".5">金</text><text x="1188.8" y="50.6" font-size="27" fill="#000" stroke="#000" stroke-width=".5">)</text>
<text y="68.8" font-size="15" fill="#2b2b2b"><tspan x="947.5">(2025年11月14日</tspan><tspan x="1068.4">15:32現在)</tspan></text>
<text y="96.7" fill="#000" stroke="#000" stroke-width=".4"><tspan x="949.4" font-size="27.2" textLength="56.4" lengthAdjust="spacing">始値</tspan><tspan x="1009.3" dy="-.4" font-size="26">:</tspan></text><text x="1020.6" y="96.3" font-size="25.6" fill="#000" stroke="#000" stroke-width=".4">4,061.91</text>
<text y="126.3" fill="#000" stroke="#000" stroke-width=".4"><tspan x="949.4" font-size="27.2" textLength="56.4" lengthAdjust="spacing">高値</tspan><tspan x="1009.3" dy="-.4" font-size="26">:</tspan></text><text x="1020.6" y="125.9" font-size="25.6" fill="#cc0000" stroke="#cc0000" stroke-width=".4">4,092.76</text>
<text y="155.3" fill="#000" stroke="#000" stroke-width=".4"><tspan x="949.4" font-size="27.2" textLength="56.4" lengthAdjust="spacing">安値</tspan><tspan x="1009.3" dy="-.4" font-size="26">:</tspan></text><text x="1020.6" y="154.9" font-size="25.6" fill="#000" stroke="#000" stroke-width=".4">4,011.40</text>
<text y="184.7" fill="#000" stroke="#000" stroke-width=".4"><tspan x="949.4" font-size="27.2" textLength="56.4" lengthAdjust="spacing">終値</tspan><tspan x="1009.3" dy="-.4" font-size="26">:</tspan></text><text x="1020.6" y="184.3" font-size="25.6" fill="#cc0000" stroke="#cc0000" stroke-width=".4">4,011.57</text>
</g>
</svg>
</body></html>
